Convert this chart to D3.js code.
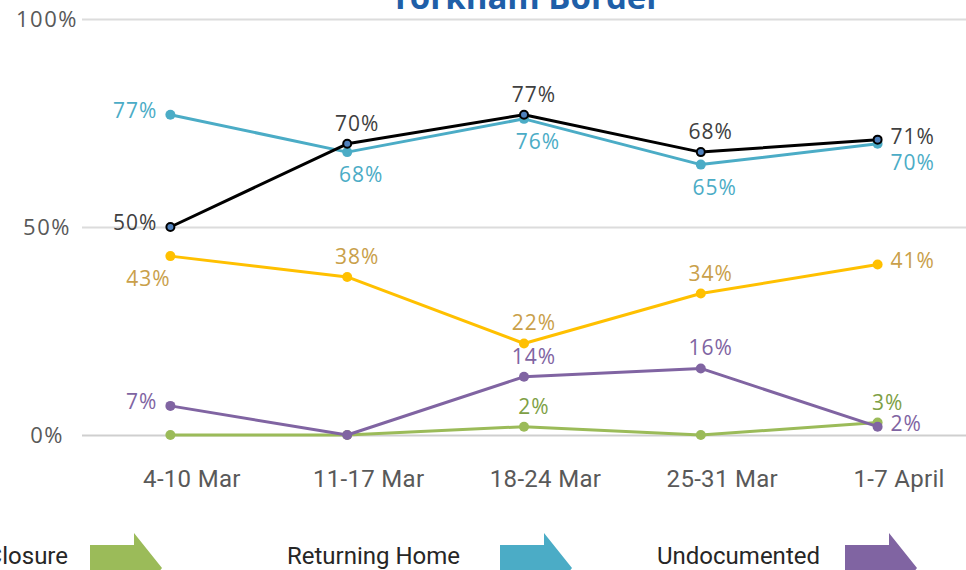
<!DOCTYPE html>
<html>
<head>
<meta charset="utf-8">
<script src="https://cdn.jsdelivr.net/npm/d3@7"></script>
<style>
  body { margin: 0; background: #fff; }
  svg { display: block; }
</style>
</head>
<body>
<svg id="chart"></svg>
<script>
// data
const weeks = ["4-10 Mar", "11-17 Mar", "18-24 Mar", "25-31 Mar", "1-7 April"];
const totalDeported = [50, 70, 77, 68, 71];
const returningHome = [77, 68, 76, 65, 70];
const orangeSeries = [43, 38, 22, 34, 41];
const undocumented = [7, 0, 14, 16, 2];
const borderClosure = [0, 0, 2, 0, 3];
const yTicks = [0, 50, 100];
const legendItems = ["Border Closure", "Returning Home", "Undocumented"];

// where each value label sits: t top, b below, l left, r right, bl, br, null none
const blackPlace = ["l", "t", "t", "t", "r"];
const bluePlace = ["l", "b", "b", "b", "br"];
const orangePlace = ["bl", "t", "t", "t", "r"];
const purplePlace = ["l", null, "t", "t", "r"];
const greenPlace = [null, null, "t", null, "t"];

const series = [
  { values: borderClosure, place: greenPlace, color: "#9BBB59", label: "#7E9F45", marker: "#9BBB59" },
  { values: undocumented, place: purplePlace, color: "#8064A2", label: "#8064A2", marker: "#8064A2" },
  { values: orangeSeries, place: orangePlace, color: "#FFC000", label: "#C9A04A", marker: "#FFC000" },
  { values: returningHome, place: bluePlace, color: "#4BACC6", label: "#4BACC6", marker: "#4BACC6" },
  { values: totalDeported, place: blackPlace, color: "#000000", label: "#404040", marker: "#4F81BD", stroke: "#000" }
];

const dimensions = {
  width: 966,
  height: 570,
  margin: { top: 19, bottom: 135, left: 82, right: 0 }
};

const svg = d3.select("#chart")
  .attr("width", dimensions.width)
  .attr("height", dimensions.height);

const xScale = d3.scalePoint()
  .domain(weeks)
  .range([dimensions.margin.left, dimensions.width - dimensions.margin.right])
  .padding(0.5);

const yScale = d3.scaleLinear()
  .domain([0, 100])
  .range([dimensions.height - dimensions.margin.bottom, dimensions.margin.top]);

// title, mostly cut off at the top
svg.append("text")
  .attr("x", 526)
  .attr("y", 9)
  .attr("text-anchor", "middle")
  .attr("font-family", "'Open Sans', sans-serif")
  .attr("font-weight", "bold")
  .attr("font-size", 33)
  .attr("fill", "#1F5FA8")
  .text("Torkham Border");

// gridlines
const axisY = d3.axisLeft(yScale)
  .tickValues(yTicks)
  .tickSize(-(dimensions.width - dimensions.margin.left))
  .tickFormat(d => d + "%");

const gY = svg.append("g")
  .attr("transform", `translate(${dimensions.margin.left},0)`)
  .call(axisY);
gY.select(".domain").remove();
gY.selectAll(".tick line")
  .attr("stroke", d => d === 0 ? "#cfcfcf" : "#dcdcdc")
  .attr("stroke-width", 2);
gY.selectAll(".tick text")
  .attr("x", 47 - dimensions.margin.left)
  .attr("text-anchor", "middle")
  .attr("font-family", "'Open Sans', sans-serif")
  .attr("font-size", 22)
  .attr("letter-spacing", 1.5)
  .attr("fill", "#595959");

// x axis labels (sit a little right of the points, as in the source)
const axisX = d3.axisBottom(xScale).tickSize(0).tickPadding(0);
const gX = svg.append("g")
  .attr("transform", `translate(21,${yScale(0) + 52})`)
  .call(axisX);
gX.select(".domain").remove();
gX.selectAll(".tick text")
  .attr("dy", 0)
  .attr("font-family", "Roboto, sans-serif")
  .attr("font-size", 24)
  .attr("letter-spacing", 0.3)
  .attr("fill", "#595959");

const line = d3.line()
  .x((d, i) => xScale(weeks[i]))
  .y(d => yScale(d));

const offsets = {
  t: { dx: 10, dy: -21, anchor: "middle" },
  b: { dx: 14, dy: 22, anchor: "middle" },
  l: { dx: -13, dy: -5, anchor: "end" },
  r: { dx: 13, dy: -4, anchor: "start" },
  bl: { dx: -22, dy: 22, anchor: "middle" },
  br: { dx: 13, dy: 18, anchor: "start" }
};

series.forEach(s => {
  const g = svg.append("g");
  g.append("path")
    .datum(s.values)
    .attr("d", line)
    .attr("fill", "none")
    .attr("stroke", s.color)
    .attr("stroke-width", 3)
    .attr("stroke-linejoin", "round");

  g.selectAll("circle")
    .data(s.values)
    .join("circle")
    .attr("cx", (d, i) => xScale(weeks[i]))
    .attr("cy", d => yScale(d))
    .attr("r", s.stroke ? 4 : 5)
    .attr("fill", s.marker)
    .attr("stroke", s.stroke || "none")
    .attr("stroke-width", 2);

  g.selectAll("text")
    .data(s.values.map((v, i) => ({ v, i, p: s.place[i] })).filter(d => d.p))
    .join("text")
    .attr("x", d => xScale(weeks[d.i]) + offsets[d.p].dx)
    .attr("y", d => yScale(d.v) + offsets[d.p].dy)
    .attr("dominant-baseline", "central")
    .attr("text-anchor", d => offsets[d.p].anchor)
    .attr("font-family", "'Open Sans', sans-serif")
    .attr("font-size", 21)
    .attr("letter-spacing", 1)
    .attr("fill", s.label)
    .text(d => d.v + "%");
});

// legend at the bottom, cut off by the frame
const legendColors = ["#9BBB59", "#4BACC6", "#8064A2"];
const legendTextEnd = [68, 460, 820];
const legendArrowX = [90, 500, 845];

const legend = svg.append("g");
legend.selectAll("text")
  .data(legendItems)
  .join("text")
  .attr("x", (d, i) => legendTextEnd[i])
  .attr("y", 564)
  .attr("text-anchor", "end")
  .attr("font-family", "Roboto, sans-serif")
  .attr("font-size", 24)
  .attr("fill", "#262626")
  .text(d => d);

const arrow = d3.path();
arrow.moveTo(0, -23);
arrow.lineTo(44, -23);
arrow.lineTo(44, -35);
arrow.lineTo(72, 0);
arrow.lineTo(44, 35);
arrow.lineTo(44, 23);
arrow.lineTo(0, 23);
arrow.closePath();

legend.selectAll("path")
  .data(legendColors)
  .join("path")
  .attr("transform", (d, i) => `translate(${legendArrowX[i]},568)`)
  .attr("d", arrow.toString())
  .attr("fill", d => d);
</script>
</body>
</html>
